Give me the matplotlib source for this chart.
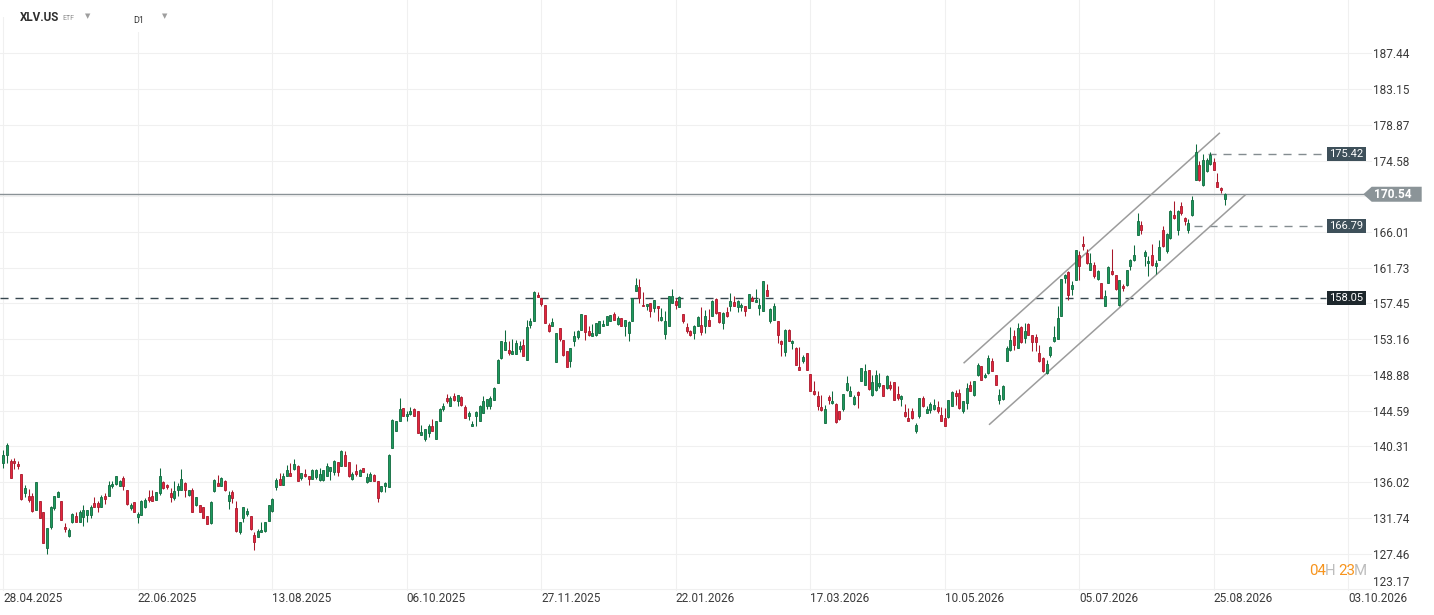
import numpy as np
import matplotlib.pyplot as plt
from matplotlib.patches import Polygon, Rectangle
from matplotlib.transforms import blended_transform_factory

W, H = 1434, 615
plt.rcParams['font.family'] = ['Roboto', 'DejaVu Sans']

# daily candles (oldest first)
opens = [
    138.3, 139.3, 138.5, 138.6, 138.2, 137.0, 134.7, 134.4, 134.4, 132.7,
    133.8, 132.4, 128.1, 130.7, 132.9, 134.2, 133.8, 130.6, 129.6, 131.2,
    132.0, 131.3, 131.8, 132.1, 132.1, 133.5, 133.5, 133.0, 134.4, 134.4,
    135.5, 135.8, 135.5, 136.5, 135.1, 132.9, 133.6, 131.8, 132.1, 133.0,
    134.3, 134.4, 133.9, 134.7, 136.0, 135.7, 134.7, 134.1, 135.1, 135.1,
    135.9, 134.5, 135.1, 133.3, 133.3, 133.0, 132.0, 131.1, 134.9, 135.9,
    135.6, 136.2, 133.8, 134.8, 132.9, 130.1, 131.7, 132.2, 132.0, 129.7,
    129.4, 130.0, 130.2, 131.4, 132.6, 135.4, 136.4, 135.7, 136.7, 137.1,
    137.6, 138.0, 136.5, 137.0, 136.7, 136.4, 136.6, 136.3, 136.3, 136.8,
    137.3, 137.2, 138.4, 138.0, 139.3, 138.4, 136.4, 137.4, 136.8, 137.7,
    136.0, 136.2, 136.9, 136.2, 134.9, 135.5, 135.4, 140.1, 142.1, 143.4,
    144.9, 143.9, 144.2, 144.8, 144.6, 141.7, 141.2, 141.9, 142.8, 141.2,
    143.4, 144.8, 146.1, 145.2, 146.3, 145.7, 146.2, 145.0, 143.9, 142.7,
    143.9, 143.4, 144.3, 145.1, 145.2, 145.9, 147.9, 150.9, 151.9, 151.9,
    151.4, 151.4, 152.0, 152.5, 150.7, 154.9, 155.4, 158.5, 158.1, 157.3,
    154.9, 154.8, 150.4, 154.5, 153.1, 151.7, 150.5, 152.9, 153.4, 154.3,
    156.1, 154.1, 153.6, 153.7, 153.9, 154.7, 154.9, 155.3, 156.2, 155.0,
    155.7, 154.7, 153.9, 155.4, 158.9, 159.4, 157.3, 157.1, 157.5, 156.9,
    157.2, 155.5, 153.8, 154.8, 157.5, 157.7, 157.0, 156.2, 154.6, 154.1,
    153.9, 154.7, 154.9, 154.8, 155.5, 155.9, 158.0, 156.4, 155.1, 156.4,
    157.1, 157.6, 157.0, 157.0, 157.2, 156.9, 158.1, 157.6, 156.9, 156.6,
    159.1, 155.4, 155.5, 155.3, 152.9, 151.6, 154.3, 152.7, 152.1, 149.8,
    150.5, 151.5, 149.0, 146.9, 146.3, 145.0, 143.1, 146.2, 145.5, 145.4,
    144.6, 144.8, 147.1, 146.3, 145.4, 146.8, 148.2, 147.7, 149.5, 146.5,
    147.1, 147.6, 147.7, 147.3, 147.7, 148.0, 146.6, 146.0, 144.4, 143.7,
    144.6, 142.1, 144.0, 146.1, 144.3, 144.7, 144.8, 145.0, 144.1, 143.7,
    143.8, 145.2, 146.7, 146.7, 144.5, 145.5, 147.7, 146.5, 148.9, 149.9,
    148.6, 149.1, 150.6, 148.9, 145.9, 146.0, 150.6, 151.9, 153.5, 152.1,
    154.6, 153.3, 155.0, 153.7, 153.4, 151.5, 150.9, 149.1, 151.3, 152.9,
    153.2, 156.0, 160.5, 161.2, 159.2, 160.2, 163.3, 164.6, 163.5, 161.5,
    162.1, 160.4, 159.9, 157.2, 159.9, 161.3, 160.9, 157.3, 159.5, 159.6,
    161.9, 162.6, 165.6, 166.9, 163.1, 162.3, 163.3, 161.9, 162.7, 166.3,
    163.7, 165.3, 168.1, 166.3, 169.1, 167.7, 166.3, 168.1, 172.2, 174.0,
    171.6, 173.3, 174.2, 174.4, 172.0, 171.3, 170.0,
]
highs = [
    139.9, 140.7, 138.8, 138.9, 138.5, 137.0, 135.7, 135.2, 134.7, 136.0,
    133.8, 132.5, 130.5, 133.2, 134.4, 135.0, 133.8, 131.1, 130.5, 132.3,
    132.5, 132.7, 133.3, 132.7, 133.3, 134.3, 133.8, 134.5, 134.7, 136.1,
    136.1, 136.8, 136.3, 136.8, 135.1, 133.5, 133.7, 132.5, 133.9, 134.1,
    135.1, 135.1, 134.8, 137.7, 136.1, 135.8, 135.3, 136.2, 135.9, 137.6,
    136.0, 135.1, 135.3, 134.3, 133.3, 133.1, 132.0, 133.8, 136.4, 136.9,
    136.6, 136.3, 135.0, 135.1, 133.8, 131.2, 133.1, 132.9, 132.0, 130.0,
    130.4, 131.2, 131.2, 133.3, 134.1, 136.5, 137.1, 137.1, 138.1, 138.3,
    138.8, 138.1, 137.1, 137.6, 136.7, 137.6, 137.6, 137.7, 137.5, 138.3,
    137.8, 138.7, 138.4, 139.9, 139.8, 138.4, 137.2, 138.2, 137.6, 137.7,
    137.1, 137.2, 137.0, 136.2, 135.6, 136.0, 139.4, 143.6, 143.4, 146.1,
    144.9, 144.6, 145.0, 144.9, 144.6, 142.9, 142.4, 143.0, 143.6, 143.4,
    144.9, 145.5, 146.6, 146.3, 146.7, 146.5, 146.3, 145.3, 144.6, 143.3,
    144.5, 145.3, 146.3, 146.0, 146.3, 147.4, 150.8, 153.0, 154.3, 152.9,
    153.2, 153.1, 152.9, 153.2, 155.5, 155.7, 158.9, 158.8, 158.1, 157.3,
    155.1, 155.7, 153.9, 154.5, 153.1, 151.7, 152.1, 154.1, 154.3, 156.2,
    156.1, 154.7, 155.0, 155.1, 155.3, 155.5, 155.9, 156.1, 156.4, 155.9,
    155.7, 155.5, 155.3, 158.1, 160.5, 160.4, 158.8, 157.4, 157.5, 157.9,
    157.2, 156.9, 156.5, 158.3, 159.2, 158.1, 158.3, 156.2, 155.1, 154.3,
    154.9, 155.9, 157.0, 156.7, 156.8, 157.9, 158.1, 156.4, 156.4, 157.0,
    158.7, 158.3, 157.9, 157.5, 157.2, 158.6, 158.3, 159.2, 158.1, 160.1,
    159.8, 156.9, 157.5, 155.3, 153.1, 154.4, 154.4, 153.1, 152.2, 152.2,
    151.3, 151.5, 149.0, 148.1, 147.0, 146.5, 145.3, 146.5, 146.9, 145.5,
    144.6, 146.6, 148.7, 147.5, 146.5, 146.9, 149.7, 150.2, 149.5, 148.9,
    149.5, 149.1, 147.7, 148.9, 148.1, 148.0, 147.6, 146.5, 145.4, 144.9,
    144.9, 143.1, 146.1, 146.3, 145.2, 145.6, 146.0, 145.8, 145.0, 144.9,
    145.9, 146.9, 147.1, 147.2, 145.8, 147.9, 148.1, 148.1, 150.3, 149.9,
    149.1, 151.3, 150.9, 148.9, 147.2, 147.7, 152.3, 154.6, 154.3, 155.1,
    154.8, 155.1, 155.1, 153.7, 153.8, 152.5, 151.0, 150.7, 152.4, 154.7,
    157.2, 160.4, 161.0, 161.3, 160.1, 163.9, 163.7, 165.5, 164.0, 163.5,
    162.4, 161.5, 159.9, 159.1, 161.9, 164.0, 160.9, 160.3, 159.8, 161.5,
    162.8, 164.5, 168.3, 167.3, 163.8, 163.1, 164.6, 162.7, 165.0, 166.7,
    165.9, 168.7, 169.7, 168.7, 169.6, 167.8, 167.6, 170.3, 176.6, 174.5,
    175.4, 174.9, 175.6, 174.9, 173.1, 171.4, 170.7,
]
lows = [
    137.7, 138.3, 136.5, 137.6, 137.6, 133.9, 134.3, 133.7, 132.5, 132.7,
    131.7, 128.7, 127.4, 130.4, 132.7, 134.2, 131.5, 130.0, 129.5, 131.1,
    131.2, 131.3, 130.8, 131.2, 131.7, 133.1, 132.5, 133.0, 133.4, 134.4,
    135.3, 135.7, 135.5, 135.1, 133.3, 132.7, 132.5, 131.1, 132.1, 132.9,
    133.7, 133.8, 133.9, 134.5, 135.2, 135.2, 133.6, 133.9, 134.4, 135.1,
    134.3, 134.4, 132.4, 133.2, 132.4, 131.7, 131.0, 131.0, 134.8, 135.5,
    135.6, 134.9, 132.8, 133.5, 130.0, 129.8, 131.3, 132.0, 130.3, 127.9,
    129.4, 130.0, 130.1, 131.4, 132.4, 135.1, 135.7, 135.7, 136.7, 136.8,
    137.5, 136.1, 136.3, 136.6, 135.7, 136.4, 136.4, 136.2, 136.1, 136.7,
    136.3, 136.9, 136.8, 138.0, 138.0, 136.6, 136.3, 136.8, 136.8, 137.2,
    135.9, 136.2, 136.2, 133.7, 134.8, 134.8, 135.4, 140.1, 142.1, 143.4,
    143.9, 143.3, 144.1, 143.9, 141.9, 141.7, 141.0, 141.4, 142.1, 141.2,
    143.4, 144.6, 145.5, 145.2, 145.8, 145.2, 145.2, 143.7, 143.5, 142.7,
    142.8, 143.4, 144.3, 144.8, 144.8, 145.9, 147.9, 150.8, 151.9, 151.3,
    151.4, 151.4, 151.6, 151.1, 150.7, 154.5, 155.4, 158.2, 157.2, 155.1,
    154.0, 154.7, 150.4, 153.0, 151.2, 149.8, 149.8, 152.3, 153.2, 154.3,
    153.1, 153.5, 153.5, 153.6, 153.9, 154.7, 154.9, 155.3, 155.5, 154.9,
    154.7, 153.5, 153.0, 155.4, 158.9, 157.5, 157.1, 156.7, 155.8, 156.4,
    155.4, 155.4, 153.2, 154.8, 157.5, 156.8, 157.0, 155.1, 153.9, 153.5,
    153.2, 154.7, 153.7, 153.9, 154.7, 155.9, 156.2, 155.1, 154.4, 155.8,
    156.5, 157.1, 156.4, 156.5, 155.9, 156.9, 157.7, 157.6, 156.1, 156.6,
    158.3, 155.1, 155.5, 152.7, 151.1, 151.1, 153.0, 152.0, 150.1, 149.5,
    150.3, 149.5, 147.0, 146.5, 144.7, 144.6, 143.1, 145.4, 145.4, 143.1,
    143.5, 144.6, 147.0, 146.3, 145.3, 144.9, 148.1, 147.7, 147.1, 146.3,
    147.0, 147.3, 146.3, 147.2, 147.1, 145.9, 145.9, 145.1, 143.8, 143.3,
    143.6, 141.9, 143.7, 145.0, 144.3, 144.3, 144.7, 144.3, 143.3, 142.7,
    143.7, 145.1, 145.3, 144.8, 144.3, 144.8, 146.9, 146.4, 148.8, 148.3,
    148.5, 149.0, 149.3, 147.7, 145.4, 145.9, 150.5, 151.8, 151.9, 152.1,
    152.7, 152.7, 153.7, 151.7, 151.7, 150.4, 149.2, 149.0, 151.0, 152.8,
    153.2, 156.0, 159.9, 157.9, 158.5, 160.2, 160.2, 163.9, 162.2, 161.4,
    160.5, 160.3, 158.1, 157.2, 159.9, 160.9, 159.1, 157.2, 158.9, 159.5,
    161.5, 162.5, 165.6, 165.8, 161.9, 160.7, 161.9, 161.0, 162.6, 164.2,
    163.5, 165.2, 167.6, 165.7, 168.1, 166.9, 165.9, 167.9, 172.2, 172.1,
    171.5, 173.2, 174.0, 173.4, 171.4, 170.7, 169.2,
]
closes = [
    139.3, 140.5, 136.5, 138.3, 137.9, 134.0, 135.3, 133.9, 132.6, 136.0,
    131.7, 128.7, 130.5, 133.1, 134.4, 134.8, 131.5, 130.4, 130.3, 132.2,
    131.3, 132.4, 132.7, 132.7, 133.0, 133.1, 133.0, 134.3, 134.0, 135.7,
    135.8, 136.8, 136.2, 135.6, 133.4, 133.3, 132.5, 132.2, 133.8, 133.9,
    133.9, 133.8, 134.8, 136.8, 135.3, 135.4, 134.3, 135.0, 135.6, 136.4,
    135.1, 135.1, 132.4, 134.2, 132.5, 131.7, 131.0, 133.6, 136.3, 135.6,
    136.5, 135.1, 134.5, 134.1, 130.2, 131.2, 133.0, 132.6, 130.4, 128.8,
    130.2, 130.3, 131.2, 133.3, 134.0, 136.3, 135.7, 136.8, 137.5, 136.8,
    138.2, 136.1, 137.1, 136.7, 136.4, 137.5, 137.5, 137.0, 137.5, 138.0,
    137.8, 138.6, 137.2, 139.8, 138.0, 136.8, 137.0, 137.0, 137.5, 137.2,
    136.6, 137.0, 136.2, 134.1, 135.5, 135.9, 139.3, 143.5, 143.3, 144.8,
    144.0, 144.2, 144.6, 143.9, 141.9, 142.0, 142.4, 142.7, 142.2, 143.4,
    144.8, 145.2, 145.7, 146.1, 145.9, 146.5, 145.3, 143.7, 144.3, 143.0,
    144.4, 145.1, 145.7, 146.0, 146.1, 147.3, 150.7, 152.9, 152.8, 151.5,
    151.7, 152.7, 152.3, 151.2, 154.6, 155.3, 158.8, 158.2, 157.4, 155.1,
    154.2, 155.2, 153.9, 153.2, 151.3, 149.8, 152.1, 153.5, 154.1, 156.2,
    154.0, 153.7, 153.9, 155.1, 155.3, 155.0, 155.9, 156.1, 155.5, 155.7,
    154.7, 155.5, 155.2, 158.1, 159.7, 158.1, 157.1, 157.4, 156.6, 157.9,
    156.9, 155.8, 155.3, 158.3, 158.3, 157.3, 158.2, 155.3, 154.1, 153.7,
    154.8, 155.8, 154.0, 155.9, 154.7, 157.7, 156.3, 155.2, 156.3, 155.9,
    157.7, 157.2, 157.7, 157.3, 156.6, 158.6, 157.7, 157.9, 157.3, 160.1,
    158.4, 156.8, 157.2, 153.7, 152.6, 154.3, 153.0, 153.0, 150.1, 149.5,
    151.0, 149.5, 147.0, 146.6, 145.2, 144.7, 144.8, 145.9, 145.7, 143.2,
    143.6, 146.6, 147.9, 146.9, 146.2, 146.5, 149.7, 149.3, 147.2, 148.0,
    148.9, 147.9, 146.4, 148.7, 147.3, 145.9, 146.1, 146.3, 144.0, 143.3,
    143.7, 142.9, 146.1, 145.1, 144.8, 145.4, 145.3, 144.6, 143.3, 142.8,
    145.9, 146.8, 146.3, 144.9, 145.8, 147.3, 147.0, 148.1, 150.1, 148.3,
    148.9, 150.9, 149.4, 147.7, 146.5, 147.6, 152.1, 153.1, 152.5, 154.5,
    152.8, 154.1, 153.7, 152.8, 152.8, 150.5, 149.3, 150.2, 152.2, 153.4,
    155.7, 160.4, 160.8, 158.5, 159.7, 163.8, 161.9, 164.3, 162.3, 162.3,
    160.7, 161.3, 158.1, 158.3, 161.8, 161.0, 159.2, 160.2, 159.3, 161.4,
    162.7, 163.3, 167.3, 166.2, 163.6, 162.5, 162.1, 162.3, 164.2, 164.3,
    165.8, 168.5, 167.7, 168.5, 168.3, 167.3, 167.1, 169.8, 175.6, 172.2,
    174.7, 174.7, 175.3, 173.5, 171.4, 171.1, 170.54,
]

date_pos = [0, 37, 74, 111, 148, 185, 222, 259, 296, 333, 370]
date_labels = ["28.04.2025", "22.06.2025", "13.08.2025", "06.10.2025",
               "27.11.2025", "22.01.2026", "17.03.2026", "10.05.2026",
               "05.07.2026", "25.08.2026", "03.10.2026"]
price_ticks = [187.44, 183.15, 178.87, 174.58, 170.30, 166.01, 161.73, 157.45,
               153.16, 148.88, 144.59, 140.31, 136.02, 131.74, 127.46, 123.17]

last_price = 170.54
levels = [175.42, 166.79, 158.05]
level_start = [331.5, 327.5, -1.0]
level_line_col = ["#848c90", "#848c90", "#37474f"]
level_box_col = ["#3e505a", "#3e505a", "#1d272c"]

# channel drawn on the chart: (candle index, price) end points
chan_upper = ([264.3, 334.5], [150.34, 177.85])
chan_lower = ([271.3, 341.6], [142.96, 170.45])

o = np.array(opens); h = np.array(highs); l = np.array(lows); c = np.array(closes)
x = np.arange(len(o))
up = c >= o
face = np.where(up, "#1d9a5e", "#e4263d")
edge = np.where(up, "#0f6a3e", "#a8182b")

fig = plt.figure(figsize=(W / 100, H / 100), dpi=100)
ax = fig.add_axes([0, 1 - 591 / H, 1372 / W, 591 / H])
ax.set_xlim(-0.91, 376.5)
ax.set_ylim(122.97, 193.83)

ax.grid(True, color="#f0f0f0", linewidth=0.8)
ax.set_axisbelow(True)
for s in ax.spines.values():
    s.set_visible(False)

ax.set_yticks(price_ticks)
ax.set_yticklabels(["" if abs(t - 170.30) < 0.01 else f"{t:.2f}" for t in price_ticks])
ax.yaxis.tick_right()
ax.tick_params(axis="y", length=0, pad=1, labelsize=8.5, labelcolor="#3a3a3a")
# lowest price label sits just above its grid line, clear of the dates
ax.get_yticklabels()[-1].set_verticalalignment("bottom")
ax.set_xticks(date_pos)
ax.set_xticklabels(date_labels)
ax.tick_params(axis="x", length=0, pad=1, labelsize=8.5, labelcolor="#3a3a3a")
for lab in ax.get_xticklabels():
    lab.set_horizontalalignment("left")

# price lines
ax.axhline(last_price, color="#8a9296", linewidth=1.0, zorder=2)
end_idx = (1326 - 3.3) / 3.635
for lv, st, lc in zip(levels, level_start, level_line_col):
    ax.hlines(lv, st, end_idx, colors=lc, linewidth=1.0,
              linestyles=(0, (5.8, 5)), zorder=2)

ax.plot(*chan_upper, color="#9c9c9c", linewidth=1.1, zorder=2)
ax.plot(*chan_lower, color="#9c9c9c", linewidth=1.1, zorder=2)

# candles
ax.vlines(x, l, h, colors=edge, linewidth=0.75, zorder=3)
ax.bar(x, np.maximum(np.abs(c - o), 0.22), bottom=np.minimum(o, c), width=0.55,
       color=face, edgecolor=edge, linewidth=0.6, zorder=4)

# tags on the right
bt = blended_transform_factory(fig.transFigure, ax.transData)
hh = 7.0 / 8.34
for lv, bc in zip(levels, level_box_col):
    fig.add_artist(Rectangle((1326.7 / W, lv - hh), 39 / W, 2 * hh,
                             transform=bt, facecolor=bc, edgecolor="none"))
    fig.text(1346.2 / W, lv, f"{lv:.2f}", transform=bt, color="white",
             fontsize=8, ha="center", va="center")
th = 7.5 / 8.34
tag = [(1363.3 / W, last_price), (1371.7 / W, last_price + th),
       (1421.7 / W, last_price + th), (1421.7 / W, last_price - th),
       (1371.7 / W, last_price - th)]
fig.add_artist(Polygon(tag, closed=True, transform=bt, facecolor="#8b9498",
                       edgecolor="none"))
fig.text(1374 / W, last_price, f"{last_price:.2f}", transform=bt, color="white",
         fontsize=8.6, fontweight="bold", ha="left", va="center")

# header
fig.add_artist(Rectangle((0, 1 - 17 / H), 215 / W, 17 / H, transform=fig.transFigure,
                         facecolor="white", edgecolor="none"))
fig.add_artist(Rectangle((100 / W, 1 - 32 / H), 115 / W, 32 / H, transform=fig.transFigure,
                         facecolor="white", edgecolor="none"))
fig.text(20 / W, 1 - 17.5 / H, "XLV.US", fontsize=8.4, fontweight="bold",
         color="#2e2e2e", va="center")
fig.text(62 / W, 1 - 18.5 / H, "ETF", fontsize=5, color="#8c8c8c", va="center")
fig.text(88 / W, 1 - 16 / H, "\u25bc", fontsize=5, color="#9e9e9e", ha="center",
         va="center", family="DejaVu Sans")
fig.text(133 / W, 1 - 20.5 / H, "D1", fontsize=6.5, color="#333333", va="center")
fig.text(165 / W, 1 - 16 / H, "\u25bc", fontsize=5, color="#9e9e9e", ha="center",
         va="center", family="DejaVu Sans")

# countdown
for px_, txt, col in [(1309.3, "04", "#f7941d"), (1324.3, "H", "#bdbdbd"),
                      (1338.3, "23", "#f7941d"), (1354, "M", "#bdbdbd")]:
    fig.text(px_ / W, 1 - 575.3 / H, txt, fontsize=10.8, color=col,
             ha="left", va="baseline")

fig.savefig("out.png", dpi=100)
